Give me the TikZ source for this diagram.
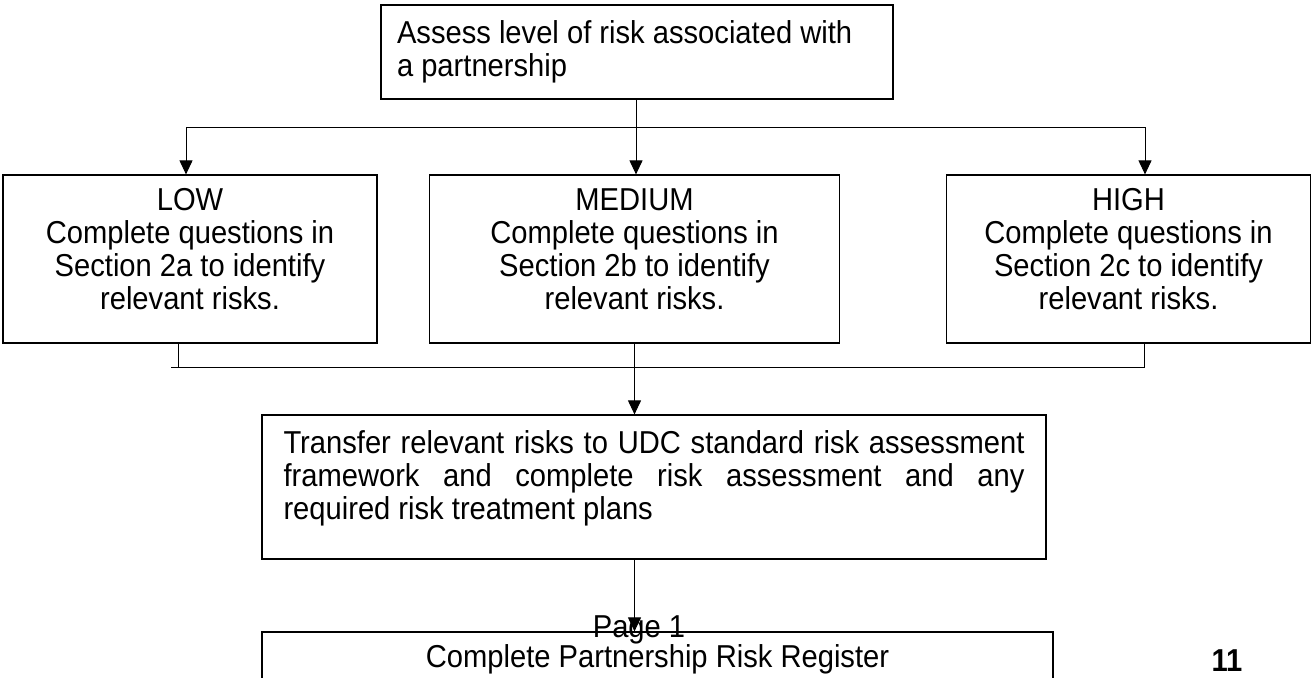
\documentclass[tikz,border=0pt]{standalone}
\usepackage{fontspec}
\setmainfont[FakeStretch=0.92]{Liberation Sans}
\usetikzlibrary{arrows.meta}

\tikzset{
    stage/.style={draw, line width=1.2bp, inner sep=0pt, align=center,
        font=\fontsize{31.8}{33}\selectfont},
    link/.style={line width=1bp},
    arr/.style={-{Triangle[length=14bp,width=13bp]}},
}

\begin{document}
\begin{tikzpicture}[x=1bp, y=-1bp]
            \useasboundingbox (0,0) rectangle (1312,677);

            \node[stage, align=flush left, text width=480bp, inner xsep=16bp, minimum height=94bp] (assess) at (637,52)
                {Assess level of risk associated with\\a partnership};

            \node[stage, minimum width=374bp, minimum height=168bp] (low) at (190,259)
                {LOW\\Complete questions in\\Section 2a to identify\\relevant risks.\rule[-20bp]{0pt}{0pt}};
            \node[stage, minimum width=410bp, minimum height=168bp] (medium) at (634.5,259)
                {MEDIUM\\Complete questions in\\Section 2b to identify\\relevant risks.\rule[-20bp]{0pt}{0pt}};
            \node[stage, minimum width=364bp, minimum height=168bp] (high) at (1128.5,259)
                {HIGH\\Complete questions in\\Section 2c to identify\\relevant risks.\rule[-20bp]{0pt}{0pt}};

            \node[stage, align=justify, text width=741bp, inner xsep=21.5bp, minimum height=144bp] (transfer) at (654,487)
                {Transfer relevant risks to UDC standard risk assessment\linebreak
                 framework and complete risk assessment and any\linebreak
                 required risk treatment plans\rule[-24bp]{0pt}{0pt}};

            \node[stage, minimum width=791bp, minimum height=55bp] (register) at (657.5,659.5)
                {Complete Partnership Risk Register};

            % fan out to the three levels
            \coordinate (split) at (636,127);
            \coordinate (splitl) at (186,127);
            \coordinate (splitr) at (1145,127);
            \draw[link] (assess.south -| split) -- (split);
            \draw[link] (splitl) -- (splitr);
            \draw[link,arr] (splitl) -- (splitl |- low.north);
            \draw[link,arr] (split) -- (split |- medium.north);
            \draw[link,arr] (splitr) -- (splitr |- high.north);

            % join back
            \coordinate (joinl) at (171,367);
            \coordinate (joinr) at (1144,367);
            \coordinate (lowdrop) at (178,367);
            \draw[link] (joinl) -- (joinr) -- (joinr |- high.south);
            \draw[link] (lowdrop) -- (lowdrop |- low.south);
            \draw[link,arr] (medium.south) -- (medium.south |- transfer.north);
            \draw[link,arr] (transfer.south -| medium.south) -- (medium.south |- register.north);

            \node[font=\fontsize{31.8}{33}\selectfont, inner sep=0pt, anchor=base] (pagenum) at (639,637) {Page 1};
            \node[font=\fontsize{31.8}{33}\selectfont\bfseries, inner sep=0pt, anchor=base] (folio) at (1227,671) {11};
\end{tikzpicture}
\end{document}
